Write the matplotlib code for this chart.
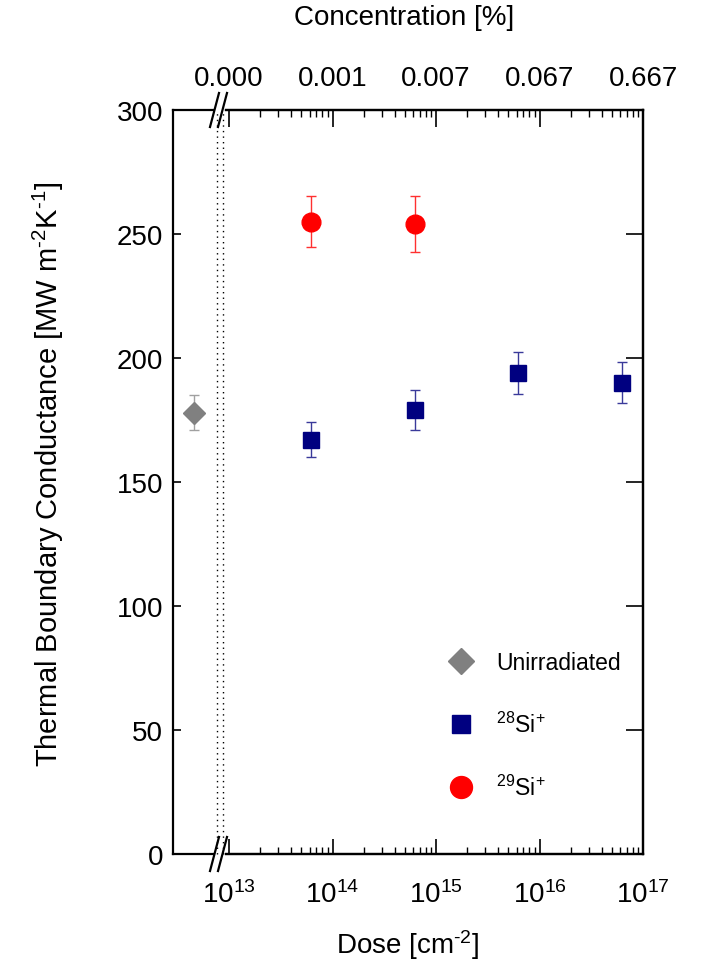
import matplotlib
matplotlib.use('Agg')
import matplotlib.pyplot as plt
from matplotlib.lines import Line2D

plt.rcParams['font.family'] = ['Liberation Sans', 'DejaVu Sans']
plt.rcParams['mathtext.default'] = 'regular'

# Data
unirr_y = [178]
unirr_err = [7]

si28_dose = [6.2e13, 6.2e14, 6.2e15, 6.2e16]
si28_tbc = [167, 179, 194, 190]
si28_err = [7, 8, 8.5, 8.2]

si29_dose = [6.2e13, 6.2e14]
si29_tbc = [255, 254]
si29_err = [10.3, 11.3]

conc_pos = [1e13, 1e14, 1e15, 1e16, 1e17]
conc_labels = ['0.000', '0.001', '0.007', '0.067', '0.667']
dose_ticks = [1e13, 1e14, 1e15, 1e16, 1e17]
y_ticks = [0, 50, 100, 150, 200, 250, 300]

W, H = 706, 970
fig = plt.figure(figsize=(W / 100, H / 100), dpi=100)


def fx(px):
    return px / W


def fy(py):
    return 1 - py / H


# left (unirradiated) segment and right (log dose) segment of the broken axis
ax1 = fig.add_axes([fx(173), fy(855), fx(213) - fx(173), fy(111) - fy(855)])
ax2 = fig.add_axes([fx(226), fy(855), fx(643) - fx(226), fy(111) - fy(855)])

for ax in (ax1, ax2):
    ax.set_ylim(0, 300)
    for s in ax.spines.values():
        s.set_linewidth(1.6)

ax1.spines['right'].set_visible(False)
ax2.spines['left'].set_visible(False)

# unirradiated point
ax1.set_xlim(0, 1)
ax1.errorbar([0.525], unirr_y, yerr=unirr_err, fmt='D', color='gray',
             ecolor='#a0a0a0', ms=11.7, elinewidth=1, capsize=3.5, capthick=1)
ax1.set_xticks([])
ax1.set_yticks(y_ticks)
ax1.tick_params(axis='y', direction='in', length=6, width=1.2, labelsize=20, pad=7)

# implanted samples
ax2.set_xscale('log')
ax2.set_xlim(10 ** 12.971, 1e17)
ax2.errorbar(si28_dose, si28_tbc, yerr=si28_err, fmt='s', color='navy',
             ecolor='#3a3a9a', ms=11.5, elinewidth=1, capsize=3.5, capthick=1)
ax2.errorbar(si29_dose, si29_tbc, yerr=si29_err, fmt='o', color='red',
             ecolor='#ff3030', ms=13.5, elinewidth=1, capsize=3.5, capthick=1)
ax2.set_xticks(dose_ticks)
ax2.tick_params(axis='x', which='major', direction='in', length=11, width=1.2,
                labelsize=20, pad=19)
ax2.tick_params(axis='x', which='minor', direction='in', length=5, width=1.0)
ax2.set_yticks(y_ticks)
ax2.tick_params(axis='y', direction='in', left=False, right=True, labelleft=False,
                length=12, width=1.2)

# top concentration axis
ax3 = ax2.twiny()
ax3.set_xscale('log')
ax3.set_xlim(ax2.get_xlim())
ax3.set_xticks(conc_pos)
ax3.set_xticklabels(conc_labels)
ax3.tick_params(axis='x', which='major', direction='in', length=12, width=1.2,
                labelsize=20, pad=14)
ax3.tick_params(axis='x', which='minor', direction='in', length=5, width=1.0)
ax3.spines['left'].set_visible(False)
for s in ax3.spines.values():
    s.set_linewidth(1.6)

# dotted break lines
for px in (217, 223):
    fig.add_artist(Line2D([fx(px), fx(px)], [fy(855), fy(111)], color='black',
                          lw=1, linestyle=(0, (1, 3))))
# break slashes
for py in (855, 111):
    for x0 in (210, 218):
        fig.add_artist(Line2D([fx(x0), fx(x0 + 9)], [fy(py + 17), fy(py - 17)],
                              color='black', lw=1.6))

# legend
handles = [
    Line2D([], [], marker='D', color='gray', ls='none', ms=11.7),
    Line2D([], [], marker='s', color='navy', ls='none', ms=11.5),
    Line2D([], [], marker='o', color='red', ls='none', ms=13.5),
]
labels = ['Unirradiated', '$^{28}$Si$^{+}$', '$^{29}$Si$^{+}$']
ax2.legend(handles, labels, loc='upper left', bbox_to_anchor=(fx(450), fy(652)),
           bbox_transform=fig.transFigure, frameon=False, fontsize=16.5,
           markerscale=1.17, handlelength=1.0, handletextpad=1.0,
           labelspacing=1.65, borderpad=0, borderaxespad=0)

fig.text(fx(48), fy(474), 'Thermal Boundary Conductance [MW m$^{\u20102}$K$^{\u20101}$]',
         rotation=90, ha='center', va='center', fontsize=21)
fig.text(fx(408), fy(945), 'Dose [cm$^{\u20102}$]', ha='center', va='center', fontsize=20)
fig.text(fx(404), fy(18), 'Concentration [%]', ha='center', va='center', fontsize=20)

plt.savefig('out.png', dpi=100)
